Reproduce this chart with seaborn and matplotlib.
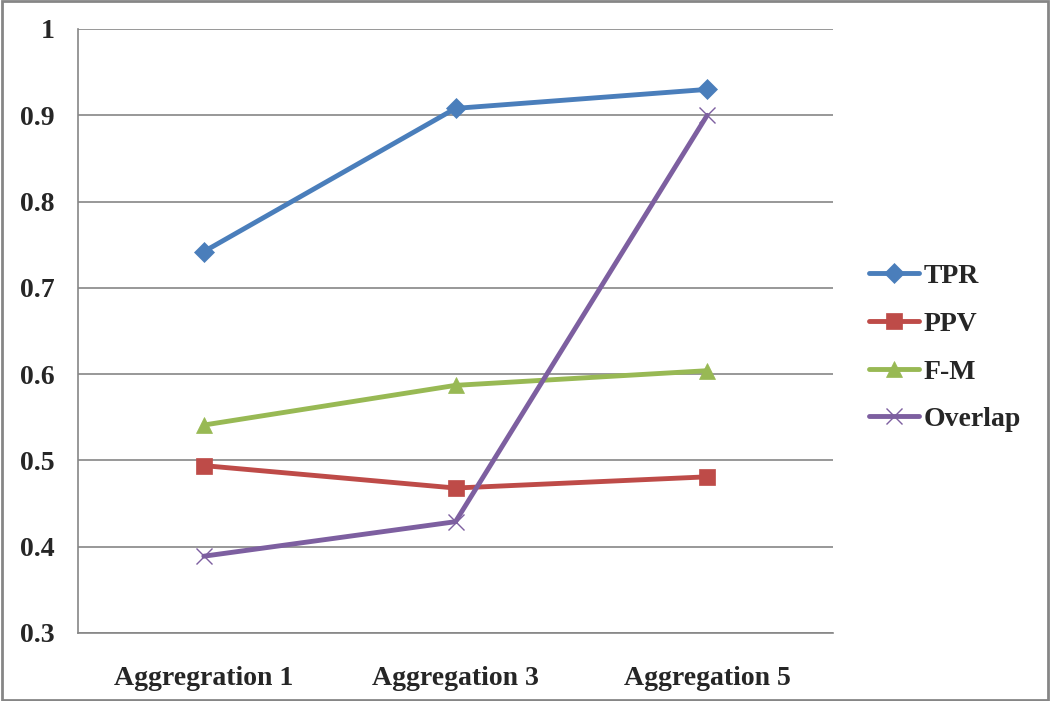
import matplotlib
matplotlib.use("Agg")
import matplotlib.pyplot as plt
import seaborn as sns
import pandas as pd
from matplotlib.patches import Rectangle

categories = ["Aggregration 1", "Aggregation 3", "Aggregation 5"]
tpr = [0.742, 0.908, 0.930]
ppv = [0.494, 0.468, 0.481]
fm = [0.541, 0.587, 0.604]
overlap = [0.389, 0.429, 0.900]

series = ["TPR", "PPV", "F-M", "Overlap"]
colors = ["#4A7EBB", "#BE4B48", "#98B954", "#7D5FA0"]
markers = ["D", "s", "^", "x"]
msizes = [10.5, 11.5, 11.5, 12]

rows = []
for name, vals in zip(series, [tpr, ppv, fm, overlap]):
    for i, v in enumerate(vals):
        rows.append({"pos": i, "value": v, "series": name})
df = pd.DataFrame(rows)

sns.set_style("white")
plt.rcParams["font.family"] = ["Liberation Serif", "DejaVu Serif"]
plt.rcParams["font.weight"] = "bold"

fs = 20
fig = plt.figure(figsize=(10.5, 7.01), dpi=100)
ax = fig.add_axes([78 / 1050, 1 - 633 / 701, (833 - 78) / 1050, (633 - 29) / 701])

for name, c, m, ms in zip(series, colors, markers, msizes):
    sub = df[df["series"] == name]
    sns.lineplot(data=sub, x="pos", y="value", ax=ax, color=c, linewidth=3.5,
                 marker=m, markersize=ms, markeredgecolor=c,
                 markeredgewidth=1.0 if m == "x" else 0.5, label=name)

ax.set_xlim(-0.5, 2.5)
ax.set_ylim(0.3, 1.0)
ax.set_yticks([0.3, 0.4, 0.5, 0.6, 0.7, 0.8, 0.9, 1.0])
ax.set_yticklabels(["0.3", "0.4", "0.5", "0.6", "0.7", "0.8", "0.9", "1"])
ax.set_xticks([0, 1, 2])
ax.set_xticklabels(categories)
ax.set_xticks([-0.5, 0.5, 1.5, 2.5], minor=True)
ax.tick_params(axis="x", which="major", length=0, pad=24, labelsize=fs)
ax.tick_params(axis="x", which="minor", length=5, color="#868686", width=1.2, direction="out")
ax.tick_params(axis="y", length=7, color="#868686", width=1.2, direction="out", labelsize=fs, pad=10)
ax.grid(axis="y", color="#868686", linewidth=1.2)
ax.set_axisbelow(True)
for s in ["top", "right"]:
    ax.spines[s].set_visible(False)
for s in ["left", "bottom"]:
    ax.spines[s].set_color("#868686")
    ax.spines[s].set_linewidth(1.2)
ax.set_xlabel("")
ax.set_ylabel("")
for lbl in ax.get_xticklabels() + ax.get_yticklabels():
    lbl.set_fontweight("bold")

handles, labels = ax.get_legend_handles_labels()
ax.get_legend().remove()
fig.legend(handles, labels, loc="center left", bbox_to_anchor=(844 / 1050, 1 - 348 / 701),
           frameon=False, handlelength=1.8, labelspacing=0.8,
           handletextpad=0.15, prop={"weight": "bold", "size": fs})

fig.patches.append(Rectangle((0.002, 0.002), 0.996, 0.996, transform=fig.transFigure,
                             fill=False, edgecolor="#868686", linewidth=2))

fig.savefig("out.png", dpi=100)
